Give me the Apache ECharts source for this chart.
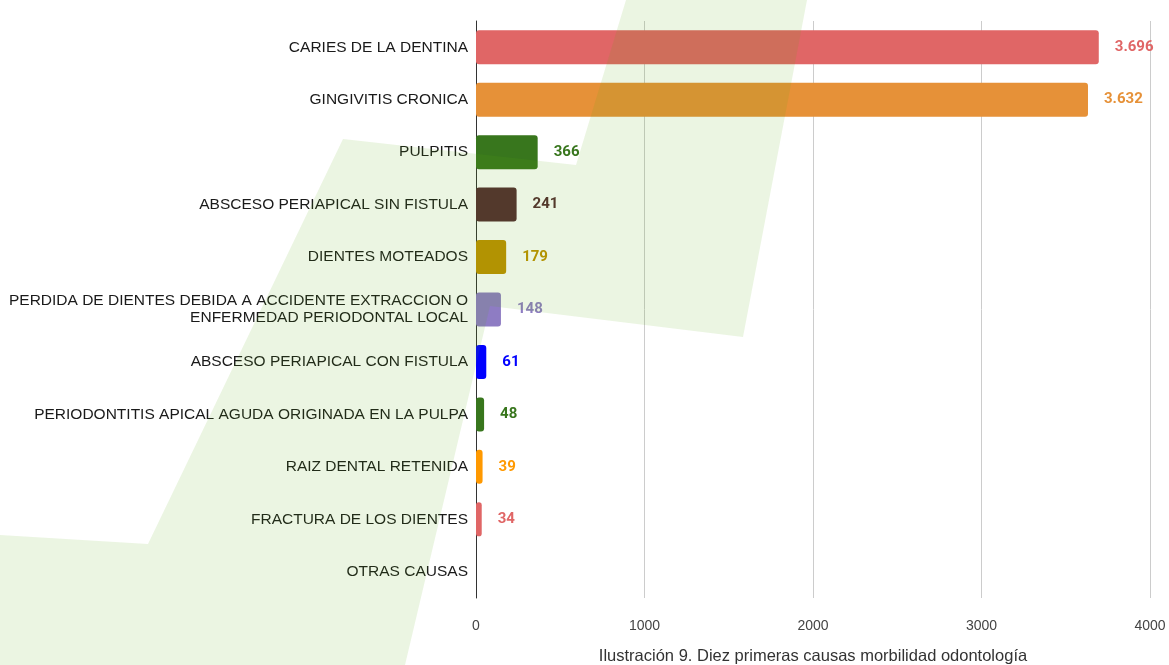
<!DOCTYPE html>
<html>
<head>
<meta charset="utf-8">
<script src="https://cdn.jsdelivr.net/npm/echarts@6/dist/echarts.min.js"></script>
<style>
html,body{margin:0;padding:0;background:#fff;}
#chart{width:1169px;height:665px;}
</style>
</head>
<body>
<div id="chart"></div>
<script>
var categories = [
  'CARIES DE LA DENTINA',
  'GINGIVITIS CRONICA',
  'PULPITIS',
  'ABSCESO PERIAPICAL SIN FISTULA',
  'DIENTES MOTEADOS',
  'PERDIDA DE DIENTES DEBIDA A ACCIDENTE EXTRACCION O\nENFERMEDAD PERIODONTAL LOCAL',
  'ABSCESO PERIAPICAL CON FISTULA',
  'PERIODONTITIS APICAL AGUDA ORIGINADA EN LA PULPA',
  'RAIZ DENTAL RETENIDA',
  'FRACTURA DE LOS DIENTES',
  'OTRAS CAUSAS'
];
var values = [3696, 3632, 366, 241, 179, 148, 61, 48, 39, 34, 0];
var barColors = ['#e06666', '#e69138', '#38761d', '#532a30', '#bf9000', '#8e7cc3', '#0000ff', '#38761d', '#ff9900', '#e06666', '#999999'];
var xTicks = [0, 1000, 2000, 3000, 4000];
var axisTitle = 'Ilustración 9. Diez primeras causas morbilidad odontología';

function fmt(v) {
  return String(v).replace(/\B(?=(\d{3})+(?!\d))/g, '.');
}

var seriesData = values.map(function (v, i) {
  return {
    value: v,
    itemStyle: { color: barColors[i] },
    label: { show: v > 0, color: barColors[i] }
  };
});

var chart = echarts.init(document.getElementById('chart'), null, { renderer: 'canvas' });
chart.setOption({
  animation: false,
  backgroundColor: '#ffffff',
  grid: { left: 476, right: 19, top: 21, bottom: 67, containLabel: false, outerBoundsMode: 'none' },
  xAxis: {
    type: 'value',
    min: xTicks[0],
    max: xTicks[xTicks.length - 1],
    interval: 1000,
    name: axisTitle,
    nameLocation: 'middle',
    nameGap: 50,
    nameTextStyle: { color: '#333', fontSize: 16.5, fontFamily: 'Liberation Sans, Arial, sans-serif' },
    axisLine: { show: false },
    axisTick: { show: false },
    axisLabel: {
      color: '#444', fontSize: 14, margin: 21, fontFamily: 'Liberation Sans, Arial, sans-serif',
      formatter: function (v) { return String(v); }
    },
    splitLine: { show: true, lineStyle: { color: '#cccccc', width: 1 } }
  },
  yAxis: {
    type: 'category',
    inverse: true,
    data: categories,
    axisLine: { show: true, lineStyle: { color: '#333', width: 1 } },
    axisTick: { show: false },
    axisLabel: {
      color: '#1a1a1a', fontSize: 15.5, margin: 8, lineHeight: 17,
      fontFamily: 'Liberation Sans, Arial, sans-serif', align: 'right'
    }
  },
  series: [{
    type: 'bar',
    data: seriesData,
    barWidth: 34,
    itemStyle: { borderRadius: 3 },
    label: {
      show: true,
      position: 'right',
      distance: 16,
      fontSize: 15,
      fontWeight: 'bold',
      fontFamily: 'Roboto, sans-serif',
      formatter: function (p) { return fmt(p.value); }
    },
    z: 2
  }],
  graphic: [{
    type: 'polygon',
    z: 100,
    silent: true,
    shape: {
      points: [[626, 0], [807, 0], [743, 337], [490, 306], [405, 665], [0, 665], [0, 535], [148, 544], [343, 139], [576, 165]]
    },
    style: { fill: 'rgba(94,171,20,0.12)' }
  }]
});
</script>
</body>
</html>
